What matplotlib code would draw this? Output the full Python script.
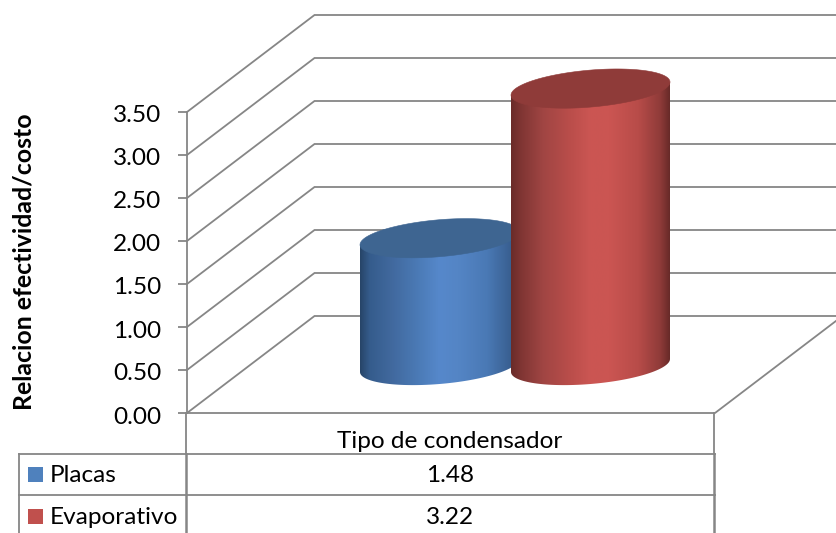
import numpy as np
import matplotlib
matplotlib.use('Agg')
import matplotlib.pyplot as plt
from matplotlib.path import Path
from matplotlib.patches import PathPatch, Rectangle
from matplotlib.colors import LinearSegmentedColormap
from matplotlib.transforms import ScaledTranslation

# Chart values
series_names = ['Placas', 'Evaporativo']
series_values = [1.48, 3.22]
series_labels = ['1.48', '3.22']
category = 'Tipo de condensador'
y_ticks = [0.0, 0.5, 1.0, 1.5, 2.0, 2.5, 3.0, 3.5]
y_title = 'Relacion efectividad/costo'

# Figure layout, in pixels
W, H = 836, 533
PLOT_LEFT, PLOT_RIGHT = 187, 715
PLOT_TOP, PLOT_BOTTOM = 112, 413
TABLE_LEFT, ROW1, ROW2 = 19, 454, 495
PX = 3.5 / (PLOT_BOTTOM - PLOT_TOP)   # value units per pixel
DEPTH_X = 127.5
DEPTH_Y = 97 * PX

GRID = '#868686'
FONT = 'Lato'
TICK_SIZE = 17.6
LINE = 1.3

# Cylinder geometry (x in pixels, y in value units)
cyl_centers = [439.5, 590.5]
CYL_A = 79.5
CYL_B = 18.5 * PX
CYL_TILT = 0.082 * PX
CYL_BASE = (PLOT_BOTTOM - 365.5) * PX

# Shading across each cylinder body, left to right
body_stops = [0.0, 0.06, 0.2, 0.38, 0.5, 0.62, 0.8, 0.94, 1.0]
body_colors = [
    ['#274568', '#355c8c', '#41699e', '#4c7cb8', '#5688cb', '#5485c5', '#4a79b5', '#3a6193', '#2f5481'],
    ['#6a2b29', '#7f3533', '#a04543', '#bb4e4b', '#cb5653', '#cb5552', '#b84c49', '#8f3b39', '#682a28'],
]
top_colors = ['#3e6591', '#8f3b39']
legend_colors = ['#4f81bd', '#c0504d']


def draw_cylinder(ax, cx, value, colors, top_color, z):
    y0 = CYL_BASE
    y1 = CYL_BASE + value
    t = np.linspace(0, np.pi, 100)
    # lower half of the base, then back up over the top of the body
    x_low = cx - CYL_A * np.cos(t)
    y_low = y0 - CYL_TILT * CYL_A * np.cos(t) - CYL_B * np.sin(t)
    xs = np.concatenate([x_low, [cx + CYL_A, cx - CYL_A]])
    ys = np.concatenate([y_low, [y1 + CYL_TILT * CYL_A, y1 - CYL_TILT * CYL_A]])
    body = PathPatch(Path(np.column_stack([xs, ys])), facecolor='none', edgecolor='none',
                     transform=ax.transData)
    ax.add_patch(body)

    cmap = LinearSegmentedColormap.from_list('body', list(zip(body_stops, colors)))
    grad = np.linspace(0, 1, 256).reshape(1, -1)
    im = ax.imshow(grad, cmap=cmap, aspect='auto', zorder=z, interpolation='bilinear',
                   extent=[cx - CYL_A, cx + CYL_A, y0 - 2 * CYL_B, y1 + 2 * CYL_B])
    # the bodies rise past the value axes box, so only the outline clips them
    im.set_clip_path(body)
    im.set_clip_box(fig.bbox)

    # Top cap
    t = np.linspace(0, 2 * np.pi, 200)
    tx = cx + CYL_A * np.cos(t)
    ty = y1 + CYL_TILT * CYL_A * np.cos(t) + CYL_B * np.sin(t)
    ax.fill(tx, ty, color=top_color, lw=0.4, zorder=z + 0.1, clip_on=False)


fig = plt.figure(figsize=(W / 100, H / 100), dpi=100)
fig.patch.set_facecolor('white')

ax = fig.add_axes([PLOT_LEFT / W, 1 - PLOT_BOTTOM / H,
                   (PLOT_RIGHT - PLOT_LEFT) / W, (PLOT_BOTTOM - PLOT_TOP) / H])
ax.patch.set_alpha(0)
for name in ['top', 'right', 'bottom']:
    ax.spines[name].set_visible(False)
ax.spines['left'].set_color(GRID)
ax.spines['left'].set_linewidth(LINE)

# Back wall grid lines with their run along the side wall
for v in y_ticks:
    ax.plot([PLOT_LEFT, PLOT_LEFT + DEPTH_X, W + 5], [v, v + DEPTH_Y, v + DEPTH_Y],
            color=GRID, lw=LINE, clip_on=False, zorder=1, solid_joinstyle='miter')

# Floor edges
ax.plot([PLOT_LEFT, PLOT_RIGHT, PLOT_RIGHT + DEPTH_X], [0, 0, DEPTH_Y],
        color=GRID, lw=LINE, clip_on=False, zorder=1)

for i, (cx, val) in enumerate(zip(cyl_centers, series_values)):
    draw_cylinder(ax, cx, val, body_colors[i], top_colors[i], 3 + i)

ax.set_xlim(PLOT_LEFT, PLOT_RIGHT)
ax.set_ylim(0, 3.5)
ax.set_xticks([])
ax.set_yticks(y_ticks)
ax.set_yticklabels(['%.2f' % v for v in y_ticks], fontsize=TICK_SIZE, family=FONT, color='black')
ax.tick_params(axis='y', length=6.5, width=LINE, color=GRID, pad=12)

# Nudge tick labels down a little so they sit on their ticks
nudge = ScaledTranslation(0, -2 / 100, fig.dpi_scale_trans)
for lab in ax.get_yticklabels():
    lab.set_transform(lab.get_transform() + nudge)

# Data table underneath, drawn in pixel coordinates
tb = fig.add_axes([0, 0, 1, 1])
tb.set_xlim(0, W)
tb.set_ylim(H, 0)
tb.axis('off')
tb.patch.set_alpha(0)

tb.plot([PLOT_LEFT - 1, PLOT_LEFT - 1], [PLOT_BOTTOM, ROW1], color=GRID, lw=LINE)
tb.plot([PLOT_RIGHT - 1, PLOT_RIGHT - 1], [PLOT_BOTTOM, ROW1], color=GRID, lw=LINE)
tb.plot([TABLE_LEFT, PLOT_RIGHT], [ROW1, ROW1], color=GRID, lw=LINE)
tb.plot([TABLE_LEFT, PLOT_RIGHT], [ROW2, ROW2], color=GRID, lw=LINE)
for xv, lw in [(TABLE_LEFT, LINE), (PLOT_LEFT - 1, 1.8), (PLOT_RIGHT - 1, 1.8)]:
    tb.plot([xv, xv], [ROW1, H], color=GRID, lw=lw)

mid_x = (PLOT_LEFT + PLOT_RIGHT) / 2 - 1
tb.text(mid_x, 441.5, category, ha='center', va='center', fontsize=TICK_SIZE, family=FONT)

row_y = [474.5, 516]
for i, name in enumerate(series_names):
    tb.add_patch(Rectangle((28, row_y[i] - 7.5), 15, 15, facecolor=legend_colors[i], edgecolor='none'))
    tb.text(50, row_y[i] + 1.5, name, ha='left', va='center', fontsize=TICK_SIZE, family=FONT)
    tb.text(mid_x, row_y[i] + 1.5, series_labels[i], ha='center', va='center', fontsize=TICK_SIZE, family=FONT)

tb.text(24, 262, y_title, rotation=90, ha='center', va='center', fontsize=17.9,
        family=FONT, fontweight='bold')

fig.savefig('out.png', dpi=100)
